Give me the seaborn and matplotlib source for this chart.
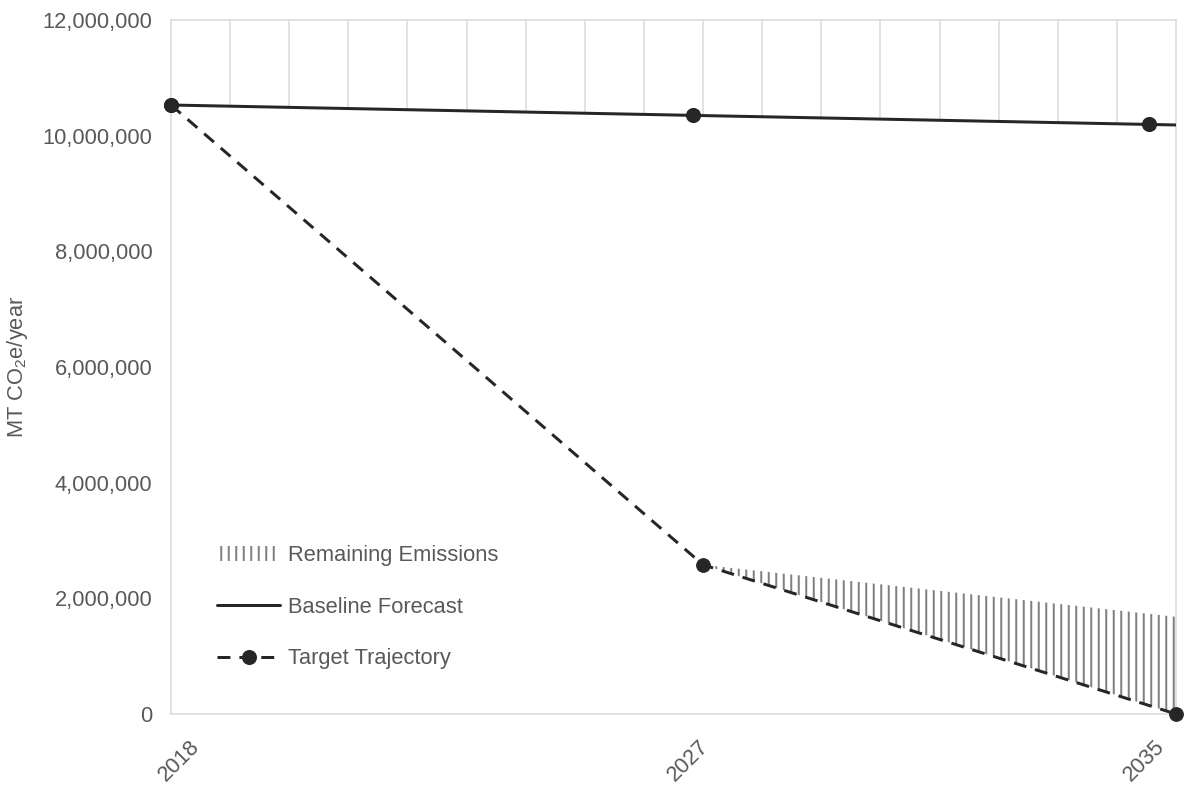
import numpy as np
import matplotlib
matplotlib.use("Agg")
import matplotlib.pyplot as plt
import matplotlib.transforms as mtransforms
import seaborn as sns
from matplotlib.patches import Patch
from matplotlib.lines import Line2D
from matplotlib.ticker import FuncFormatter

# ---- data -----------------------------------------------------------------
baseline_years = [2018, 2035]
baseline_values = [10_530_000, 10_185_000]
baseline_marker_years = [2018, 2026.83, 2034.55]

target_years = [2018, 2027, 2035]
target_values = [10_530_000, 2_580_000, 0]

remaining_years = [2027, 2035]
remaining_upper = [2_580_000, 1_680_000]
remaining_lower = [2_580_000, 0]

grid_years = list(range(2019, 2035))
x_ticks = [2018, 2027, 2035]
x_tick_labels = ["2018", "2027", "2035"]
y_ticks = [0, 2_000_000, 4_000_000, 6_000_000, 8_000_000, 10_000_000, 12_000_000]

legend_labels = ["Remaining Emissions", "Baseline Forecast", "Target Trajectory"]

# ---- style ----------------------------------------------------------------
sns.set_theme(style="white")
plt.rcParams["font.family"] = ["Liberation Sans", "DejaVu Sans"]
plt.rcParams["mathtext.fontset"] = "custom"
plt.rcParams["mathtext.rm"] = "Liberation Sans"
plt.rcParams["hatch.linewidth"] = 1.6

DARK = "#262626"
TEXT = "#595959"
GRID = "#d9d9d9"
HATCH = "#808080"
DASH = (0, (4.3, 3.0))
LW = 2.4
FS = 17.5

DPI = 90
fig = plt.figure(figsize=(1189 / DPI, 788 / DPI), dpi=DPI)
ax = fig.add_axes([171 / 1189, 1 - 714 / 788, (1176 - 171) / 1189, (714 - 20) / 788])

ax.set_xlim(2018, 2035)
ax.set_ylim(0, 12_000_000)

# vertical year grid, only above the baseline forecast
grid_base = np.interp(grid_years, baseline_years, baseline_values)
ax.vlines(grid_years, grid_base, 12_000_000, colors=GRID, linewidth=1.2, zorder=1)

# remaining emissions wedge
ax.fill_between(remaining_years, remaining_lower, remaining_upper,
                facecolor="none", edgecolor=HATCH, hatch="||",
                linewidth=0, zorder=2)

# baseline forecast
sns.lineplot(x=baseline_years, y=baseline_values, color=DARK, linewidth=LW,
             ax=ax, zorder=3)
marker_vals = np.interp(baseline_marker_years, baseline_years, baseline_values)
sns.scatterplot(x=baseline_marker_years, y=marker_vals, color=DARK,
                edgecolor=DARK, s=125, ax=ax, zorder=4, clip_on=False)

# target trajectory
sns.lineplot(x=target_years, y=target_values, color=DARK, linewidth=LW,
             linestyle=DASH, marker="o", markersize=11, markeredgecolor=DARK,
             ax=ax, zorder=4, clip_on=False)

# ---- axes -----------------------------------------------------------------
for sp in ax.spines.values():
    sp.set_visible(True)
    sp.set_color(GRID)
    sp.set_linewidth(1.2)

ax.set_yticks(y_ticks)
ax.yaxis.set_major_formatter(FuncFormatter(lambda v, p: f"{v:,.0f}"))
ax.set_xticks(x_ticks)
ax.set_xticklabels(x_tick_labels, rotation=45, ha="right", rotation_mode="anchor")
ax.tick_params(axis="y", length=0, pad=15, labelsize=FS, labelcolor=TEXT)
ax.tick_params(axis="x", length=0, pad=18, labelsize=FS, labelcolor=TEXT)

# small horizontal nudges of the rotated year labels (in pixels)
label_shift = [18, -5, -22]
for lab, dx in zip(ax.get_xticklabels(), label_shift):
    lab.set_transform(lab.get_transform()
                      + mtransforms.ScaledTranslation(dx / DPI, 0, fig.dpi_scale_trans))

ax.set_xlabel("")
ax.set_ylabel(r"MT CO$_\mathregular{2}$e/year", fontsize=17.5, color=TEXT)
ax.yaxis.set_label_coords(-0.140, 0.5)

# ---- legend ---------------------------------------------------------------
handles = [
    Patch(facecolor="none", edgecolor=HATCH, hatch="||", linewidth=0),
    Line2D([], [], color=DARK, linewidth=LW),
    Line2D([], [], color=DARK, linewidth=LW, linestyle=DASH, marker="o",
           markersize=11),
]
leg = ax.legend(handles, legend_labels, loc="upper left",
                bbox_to_anchor=(217 / 1189, 1 - 545 / 788),
                bbox_transform=fig.transFigure, frameon=False,
                fontsize=FS, handlelength=2.9, handletextpad=0.33,
                labelspacing=1.4, borderpad=0, borderaxespad=0)
for t in leg.get_texts():
    t.set_color(TEXT)

fig.savefig("out.png", dpi=DPI)
